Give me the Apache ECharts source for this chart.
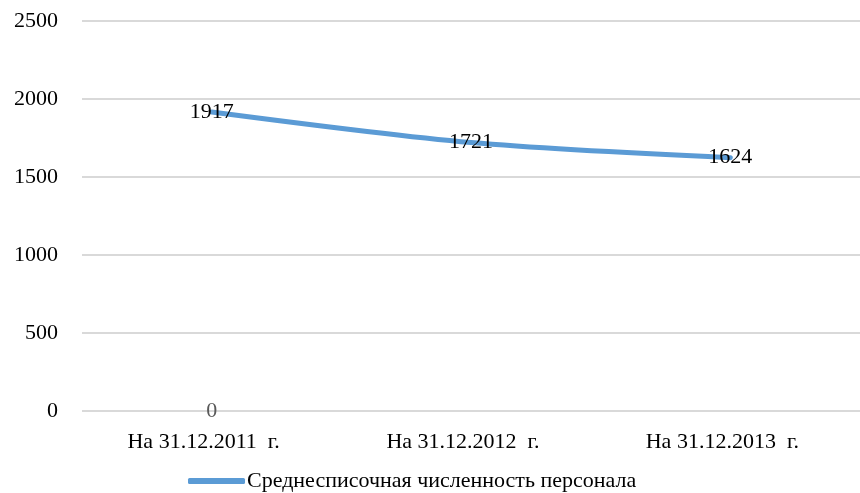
<!DOCTYPE html>
<html>
<head>
<meta charset="utf-8">
<script src="https://cdn.jsdelivr.net/npm/echarts@6/dist/echarts.min.js"></script>
<style>
  html, body { margin: 0; padding: 0; background: #fff; }
  #chart { width: 860px; height: 493px; }
</style>
</head>
<body>
<div id="chart"></div>
<script>
const categories = ['На 31.12.2011  г.', 'На 31.12.2012  г.', 'На 31.12.2013  г.']
const staffValues = [1917, 1721, 1624]
const zeroValues = [0, '-', '-']
const yTicks = { min: 0, max: 2500, interval: 500 }
const seriesName = 'Среднесписочная численность персонала'

const font = 'Liberation Serif, Times New Roman, serif'
const chart = echarts.init(document.getElementById('chart'))

chart.setOption({
  animation: false,
  textStyle: { fontFamily: font },
  grid: { left: 82, right: -9, top: 21, bottom: 82 },
  xAxis: {
    type: 'category',
    data: categories,
    boundaryGap: true,
    axisLine: { show: false },
    axisTick: { show: false },
    axisLabel: { color: '#000', fontSize: 22, fontFamily: font, margin: 20, padding: [0, 16, 0, 0] }
  },
  yAxis: {
    type: 'value',
    min: yTicks.min,
    max: yTicks.max,
    interval: yTicks.interval,
    axisLine: { show: false },
    axisTick: { show: false },
    axisLabel: { color: '#000', fontSize: 22, fontFamily: font, margin: 24, formatter: v => String(v) },
    splitLine: { lineStyle: { color: '#d9d9d9', width: 2 } }
  },
  legend: {
    top: 465,
    left: 183,
    data: [{ name: seriesName, icon: 'roundRect', itemStyle: { color: '#5b9bd5', opacity: 1 } }],
    itemWidth: 57,
    itemHeight: 6,
    itemGap: 10,
    textStyle: { color: '#000', fontSize: 22, fontFamily: font, padding: [0, 0, 0, -3] }
  },
  series: [
    {
      name: seriesName,
      type: 'line',
      data: staffValues,
      smooth: 0.3,
      symbol: 'circle',
      symbolSize: 2,
      lineStyle: { color: '#5b9bd5', width: 5, cap: 'round' },
      itemStyle: { color: '#5b9bd5' },
      label: { show: true, position: 'inside', color: '#000', fontSize: 22, fontFamily: font }
    },
    {
      name: 'zero',
      type: 'line',
      data: zeroValues,
      symbol: 'circle',
      symbolSize: 2,
      lineStyle: { width: 0 },
      itemStyle: { color: 'rgba(0,0,0,0)' },
      label: { show: true, position: 'inside', color: '#595959', fontSize: 22, fontFamily: font }
    }
  ]
})
</script>
</body>
</html>
